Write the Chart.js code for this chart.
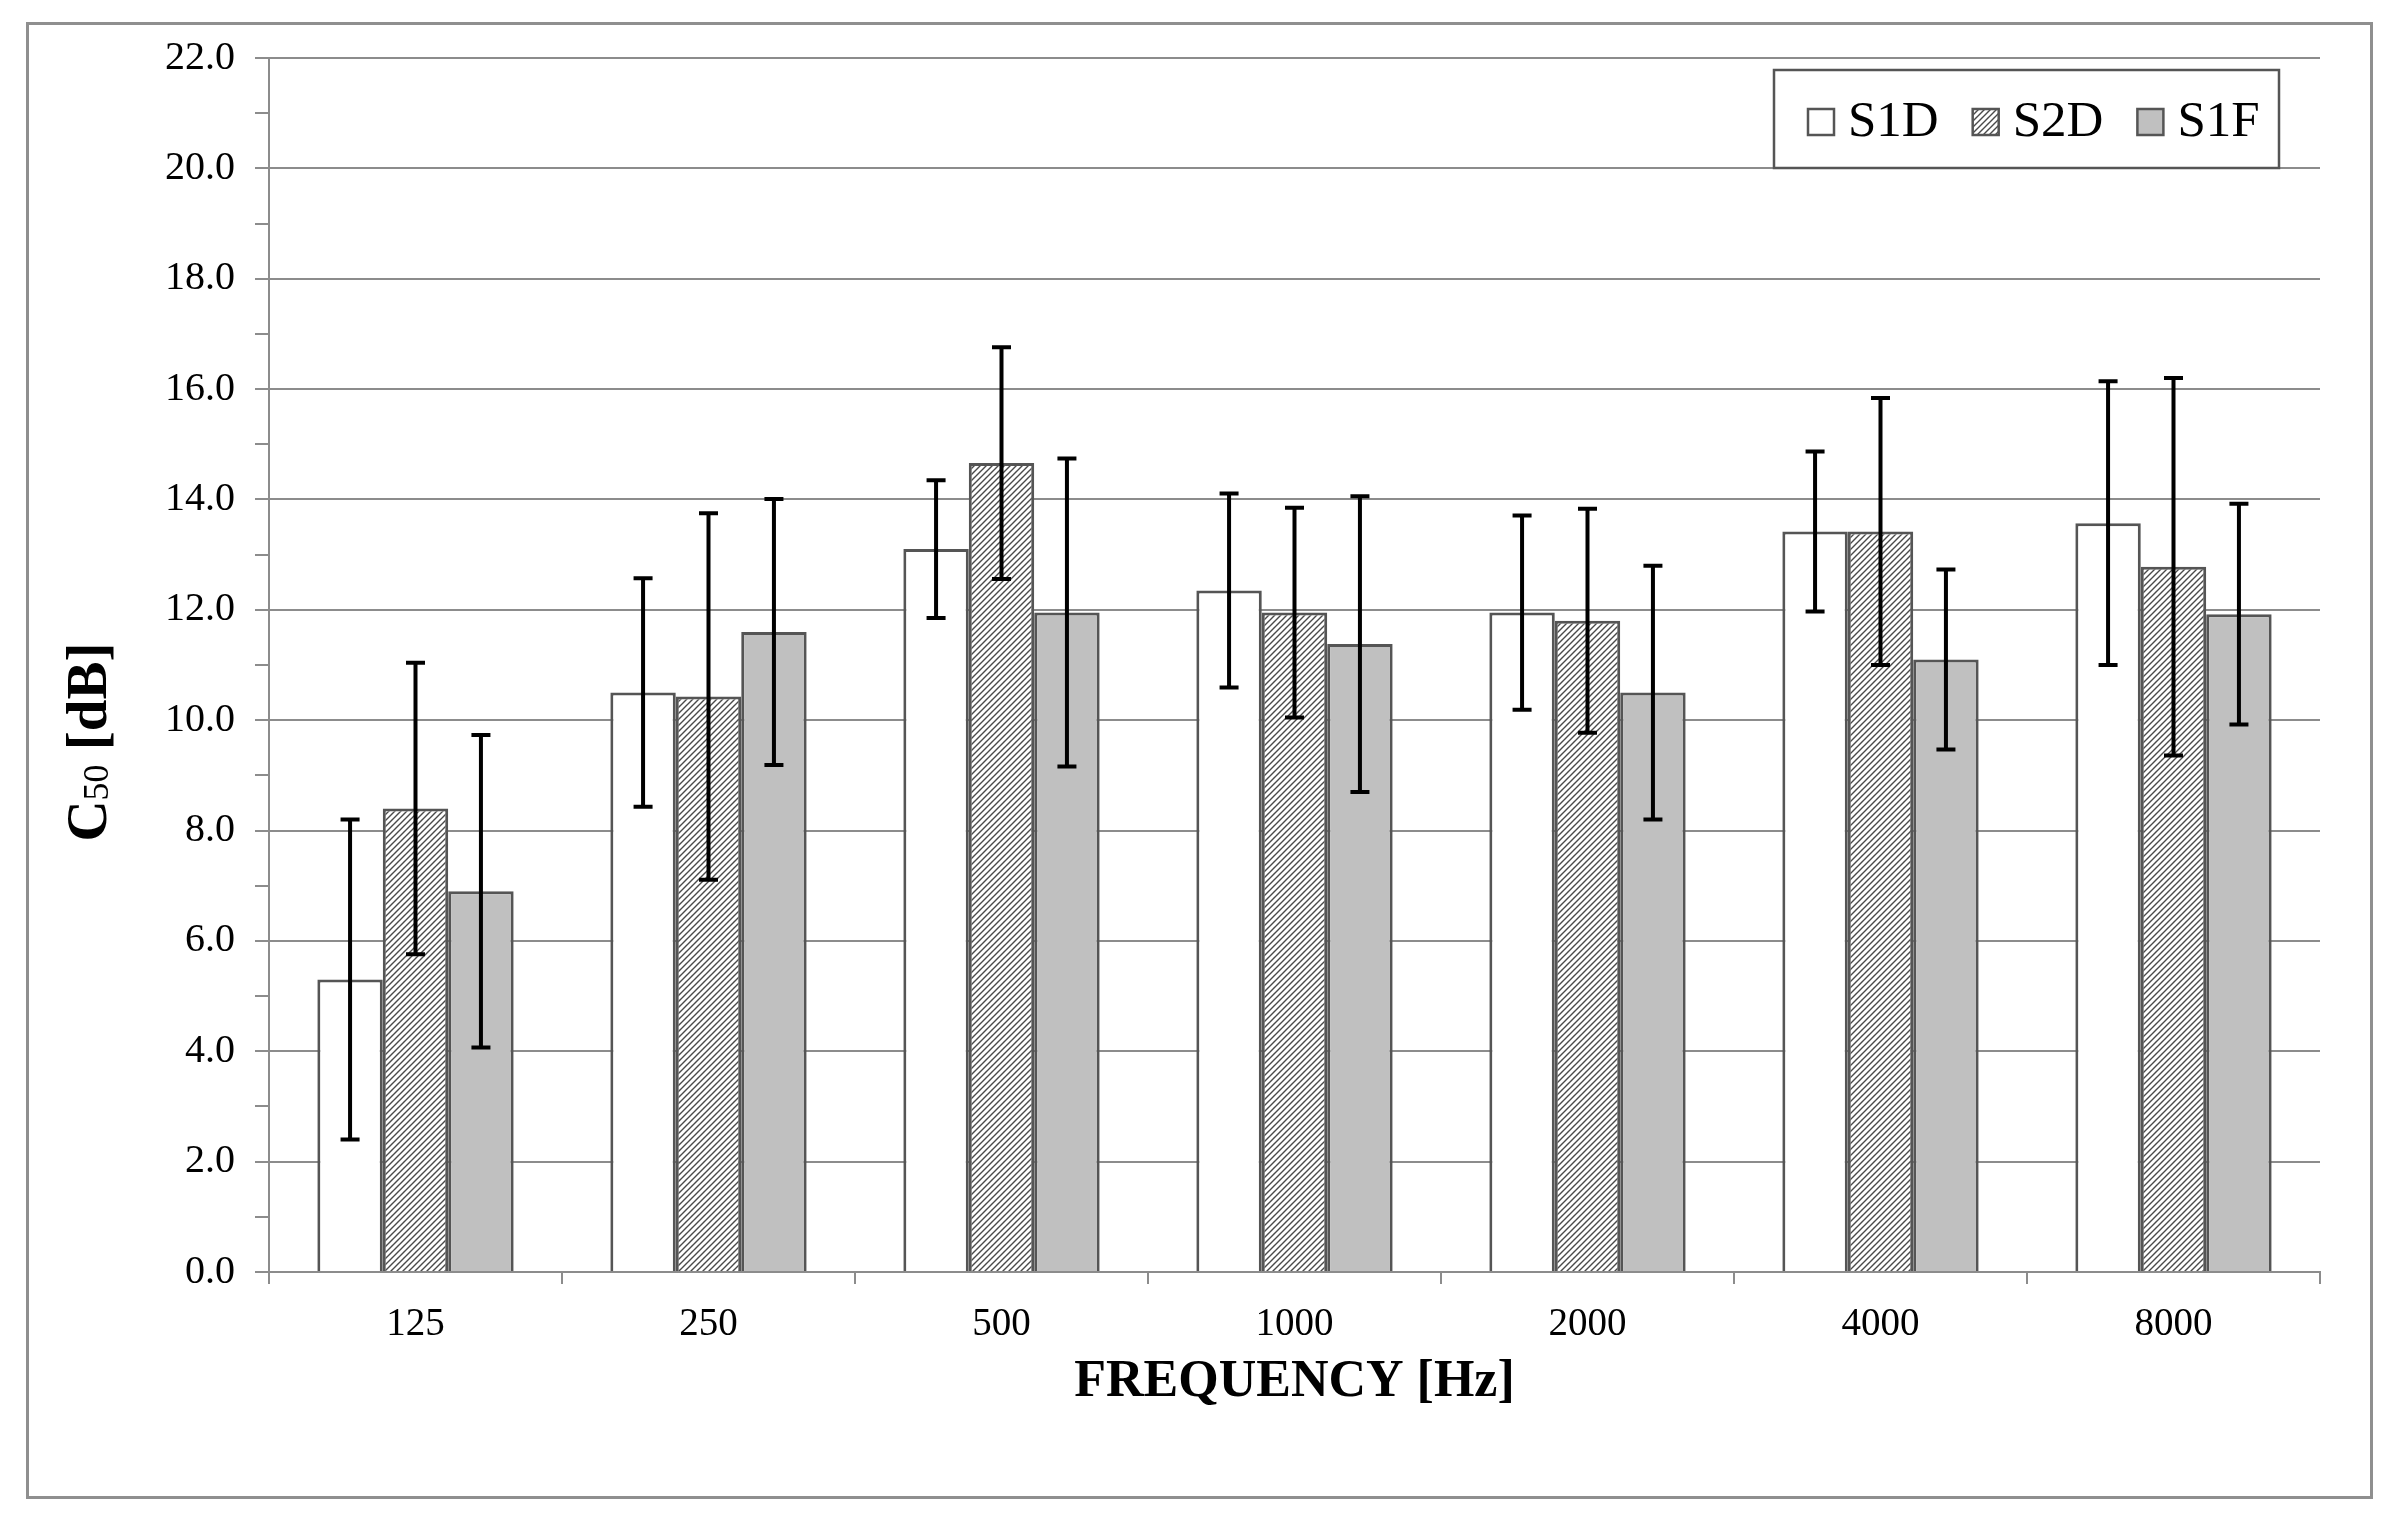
<!DOCTYPE html>
<html>
<head>
<meta charset="utf-8">
<script src="https://cdn.jsdelivr.net/npm/chart.js@4/dist/chart.umd.min.js"></script>
<style>
html,body{margin:0;padding:0;background:#fff;}
#c{display:block;}
</style>
</head>
<body>
<canvas id="c" width="2400" height="1520"></canvas>
<script>
// ---- data ----
const categories = ['125', '250', '500', '1000', '2000', '4000', '8000'];
const seriesNames = ['S1D', 'S2D', 'S1F'];
const s1dValues = [5.3, 10.5, 13.1, 12.35, 11.95, 13.42, 13.57];
const s2dValues = [8.4, 10.43, 14.66, 11.95, 11.8, 13.42, 12.78];
const s1fValues = [6.9, 11.6, 11.95, 11.38, 10.5, 11.1, 11.92];
const s1dErrors = [2.9, 2.07, 1.25, 1.76, 1.76, 1.45, 2.57];
const s2dErrors = [2.64, 3.32, 2.1, 1.9, 2.03, 2.42, 3.42];
const s1fErrors = [2.83, 2.41, 2.79, 2.68, 2.3, 1.63, 2.0];
const yMin = 0, yMax = 22;

// ---- styles ----
const SERIF = '"Liberation Serif", "Times New Roman", serif';
const BORDER = '#555555';
const GRID = '#8c8c8c';

function makeHatch() {
  const s = 6;
  const pc = document.createElement('canvas');
  pc.width = s; pc.height = s;
  const g = pc.getContext('2d');
  g.fillStyle = '#ffffff';
  g.fillRect(0, 0, s, s);
  g.strokeStyle = '#4a4a4a';
  g.lineWidth = 1.4;
  g.beginPath();
  g.moveTo(0, s); g.lineTo(s, 0);
  g.moveTo(-1, 1); g.lineTo(1, -1);
  g.moveTo(s - 1, s + 1); g.lineTo(s + 1, s - 1);
  g.stroke();
  return g.createPattern(pc, 'repeat');
}
const ctx = document.getElementById('c').getContext('2d');
const hatch = makeHatch();
const fills = ['#ffffff', hatch, '#c0c0c0'];
const errorSets = [s1dErrors, s2dErrors, s1fErrors];

const bgPlugin = {
  id: 'bg',
  beforeDraw(chart) {
    const c = chart.ctx;
    c.save();
    c.fillStyle = '#ffffff';
    c.fillRect(0, 0, chart.width, chart.height);
    c.restore();
  },
  afterDraw(chart) {
    const c = chart.ctx;
    c.save();
    // outer frame
    c.strokeStyle = '#8f8f8f';
    c.lineWidth = 3;
    c.strokeRect(27.5, 23.5, 2344, 1474);
    const area = chart.chartArea;
    // x title
    c.fillStyle = '#000';
    c.font = 'bold 52px ' + SERIF;
    c.textAlign = 'center';
    c.textBaseline = 'alphabetic';
    c.fillText('FREQUENCY [Hz]', (area.left + area.right) / 2, 1396);
    // y title with subscript
    c.save();
    c.translate(106, 742);
    c.rotate(-Math.PI / 2);
    c.textAlign = 'left';
    const bigFont = 'bold 57px ' + SERIF;
    const subFont = '36px ' + SERIF;
    c.font = bigFont; const wC = c.measureText('C').width;
    c.font = subFont; const w50 = c.measureText('50').width;
    c.font = bigFont; const wRest = c.measureText(' [dB]').width;
    let x = -(wC + w50 + wRest) / 2;
    c.font = bigFont; c.fillText('C', x, 0); x += wC;
    c.font = subFont; c.fillText('50', x, 2); x += w50;
    c.font = bigFont; c.fillText(' [dB]', x, 0);
    c.restore();
    // legend
    const lx = 1774, ly = 70, lw = 505, lh = 98;
    c.fillStyle = '#fff';
    c.fillRect(lx, ly, lw, lh);
    c.strokeStyle = BORDER;
    c.lineWidth = 2.5;
    c.strokeRect(lx, ly, lw, lh);
    c.font = '51px ' + SERIF;
    c.textAlign = 'left';
    c.textBaseline = 'alphabetic';
    let px = 1808;
    chart.data.datasets.forEach((ds, i) => {
      c.fillStyle = ds.backgroundColor;
      c.fillRect(px, 109, 26, 26);
      c.strokeStyle = BORDER;
      c.lineWidth = 2.5;
      c.strokeRect(px, 109, 26, 26);
      c.fillStyle = '#000';
      c.fillText(ds.label, px + 40, 136);
      px += 40 + c.measureText(ds.label).width + 34;
    });
    c.restore();
  }
};

const errorBarPlugin = {
  id: 'errbars',
  afterDatasetsDraw(chart) {
    const c = chart.ctx;
    const ys = chart.scales.y;
    c.save();
    c.strokeStyle = '#000';
    c.lineWidth = 4;
    chart.data.datasets.forEach((ds, i) => {
      const meta = chart.getDatasetMeta(i);
      const errs = errorSets[i];
      meta.data.forEach((el, j) => {
        const v = ds.data[j], e = errs[j];
        const yt = ys.getPixelForValue(v + e);
        const yb = ys.getPixelForValue(v - e);
        const x = el.x;
        c.beginPath();
        c.moveTo(x, yt); c.lineTo(x, yb);
        c.moveTo(x - 9.5, yt); c.lineTo(x + 9.5, yt);
        c.moveTo(x - 9.5, yb); c.lineTo(x + 9.5, yb);
        c.stroke();
      });
    });
    c.restore();
  }
};

new Chart(ctx, {
  type: 'bar',
  data: {
    labels: categories,
    datasets: [s1dValues, s2dValues, s1fValues].map((vals, i) => ({
      label: seriesNames[i],
      data: vals,
      backgroundColor: fills[i],
      borderColor: BORDER,
      borderWidth: 3,
      categoryPercentage: 0.67,
      barPercentage: 1.0
    }))
  },
  options: {
    responsive: false,
    animation: false,
    devicePixelRatio: 1,
    layout: { padding: { left: 0, right: 80, top: 58, bottom: 0 } },
    plugins: {
      legend: { display: false },
      tooltip: { enabled: false },
      title: { display: false }
    },
    scales: {
      x: {
        offset: true,
        grid: {
          display: true,
          drawOnChartArea: false,
          drawTicks: true,
          tickLength: 12,
          color: GRID,
          lineWidth: 2,
          offset: true
        },
        border: { display: true, color: GRID, width: 2 },
        ticks: {
          color: '#000',
          font: { family: SERIF, size: 39 },
          padding: 17,
          maxRotation: 0
        },
        afterFit(scale) { scale.height = 248; }
      },
      y: {
        min: yMin,
        max: yMax,
        grid: {
          color: (c) => (c.tick && c.tick.value % 2 === 0) ? GRID : 'rgba(0,0,0,0)',
          tickColor: GRID,
          lineWidth: 2,
          tickLength: 14,
          drawTicks: true
        },
        border: { display: true, color: GRID, width: 2 },
        ticks: {
          stepSize: 1,
          autoSkip: false,
          color: '#000',
          font: { family: SERIF, size: 40 },
          padding: 20,
          callback: (v) => (v % 2 === 0 ? Number(v).toFixed(1) : '')
        },
        afterFit(scale) { scale.width = 269; }
      }
    }
  },
  plugins: [bgPlugin, errorBarPlugin]
});
</script>
</body>
</html>
